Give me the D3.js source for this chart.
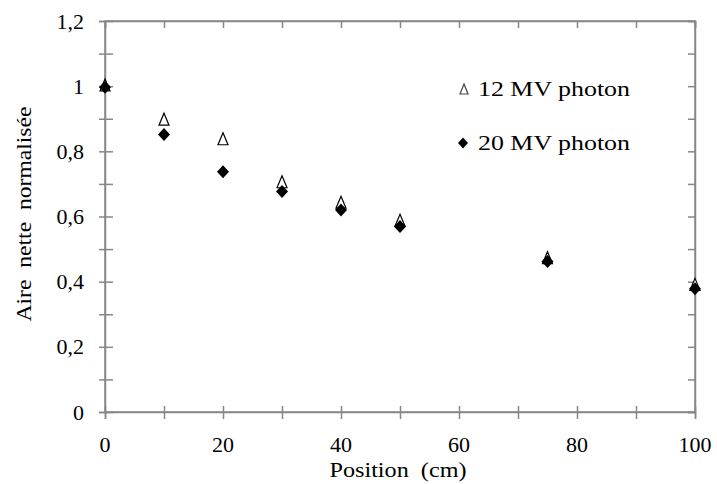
<!DOCTYPE html>
<html><head><meta charset="utf-8">
<script src="https://cdn.jsdelivr.net/npm/d3@7"></script>
<style>body{margin:0;background:#fff}svg{display:block}text{font-family:"Liberation Serif",Tinos,"Times New Roman",Times,serif;fill:#000}</style>
</head><body><svg id="c" width="717" height="484"></svg>
<script>
const positions = [0, 10, 20, 30, 40, 50, 75, 100];
const mv12 = [1.0, 0.895, 0.835, 0.703, 0.64, 0.585, 0.47, 0.388];
const mv20 = [0.997, 0.852, 0.737, 0.677, 0.62, 0.569, 0.462, 0.378];
const xTicks = [0, 20, 40, 60, 80, 100];
const yTicks = [0, 0.2, 0.4, 0.6, 0.8, 1, 1.2];
const seriesNames = ["12 MV photon", "20 MV photon"];

const svg = d3.select("#c");
const L = 105, R = 695, T = 21, B = 412;
const x = d3.scaleLinear().domain([0, 100]).range([L, R]);
const y = d3.scaleLinear().domain([0, 1.2]).range([B, T]);
const axisColor = "#878787";
const fmt = v => String(+v.toFixed(1)).replace(".", ",");
const labLen = s => s.split("").reduce((a, c) => a + (c === "," ? 5.5 : 11), 0);

// frame
svg.append("rect").attr("x", L).attr("y", T).attr("width", R - L).attr("height", B - T)
  .attr("fill", "none").attr("stroke", axisColor).attr("stroke-width", 1.5);

const minorX = d3.range(0, 101, 10);
const minorY = d3.range(0, 13).map(i => i / 10);

const gB = svg.append("g").attr("transform", `translate(0,${B})`)
  .call(d3.axisBottom(x).tickValues(minorX).tickSize(7).tickFormat(""));
gB.selectAll(".tick line").attr("y1", -6).attr("y2", 7);
const gL = svg.append("g").attr("transform", `translate(${L},0)`)
  .call(d3.axisLeft(y).tickValues(minorY).tickSize(6).tickFormat(""));
gL.selectAll(".tick line").attr("x1", 8).attr("x2", -6);
const gT = svg.append("g").attr("transform", `translate(0,${T})`)
  .call(d3.axisTop(x).tickValues(minorX).tickSize(-7).tickFormat(""));
const gR = svg.append("g").attr("transform", `translate(${R},0)`)
  .call(d3.axisRight(y).tickValues(minorY).tickSize(-7).tickFormat(""));
[gB, gL, gT, gR].forEach(g => {
  g.select(".domain").attr("stroke", axisColor).attr("stroke-width", 1.5);
  g.selectAll(".tick line").attr("stroke", axisColor).attr("stroke-width", 1.5);
});

// tick labels
svg.append("g").selectAll("text").data(xTicks).join("text")
  .attr("x", d => x(d)).attr("y", 452).attr("text-anchor", "middle")
  .attr("font-size", 22).attr("textLength", d => labLen(String(d)))
  .attr("lengthAdjust", "spacingAndGlyphs").text(d => d);
svg.append("g").selectAll("text").data(yTicks).join("text")
  .attr("x", 84).attr("y", d => y(d) + 7.5).attr("text-anchor", "end")
  .attr("font-size", 22).attr("textLength", d => labLen(fmt(d)))
  .attr("lengthAdjust", "spacingAndGlyphs").text(d => fmt(d));

// axis titles
svg.append("text").attr("x", 398).attr("y", 477).attr("text-anchor", "middle")
  .attr("font-size", 20).attr("textLength", 137).attr("lengthAdjust", "spacingAndGlyphs")
  .attr("xml:space", "preserve").text("Position  (cm)");
svg.append("text").attr("transform", "translate(31,214) rotate(-90)")
  .attr("text-anchor", "middle").attr("font-size", 20)
  .attr("textLength", 215).attr("lengthAdjust", "spacingAndGlyphs")
  .attr("xml:space", "preserve").text("Aire  nette  normalisée");

// custom marker shapes
const triType = (w, h) => ({draw(ctx) {
  ctx.moveTo(0, -h * 0.6); ctx.lineTo(w / 2, h * 0.4); ctx.lineTo(-w / 2, h * 0.4); ctx.closePath();
}});
const diaType = (w, h) => ({draw(ctx) {
  ctx.moveTo(0, -h / 2); ctx.lineTo(w / 2, 0); ctx.lineTo(0, h / 2); ctx.lineTo(-w / 2, 0); ctx.closePath();
}});

svg.append("g").selectAll("path").data(positions.map((p, i) => [p, mv12[i]])).join("path")
  .attr("d", d3.symbol().type(triType(10, 12))).attr("transform", d => `translate(${x(d[0])},${y(d[1])})`)
  .attr("fill", "#fff").attr("stroke", "#000").attr("stroke-width", 1.2);
svg.append("g").selectAll("path").data(positions.map((p, i) => [p, mv20[i]])).join("path")
  .attr("d", d3.symbol().type(diaType(12, 13))).attr("transform", d => `translate(${x(d[0])},${y(d[1])})`)
  .attr("fill", "#000");

// legend
const leg = svg.append("g");
leg.append("path").attr("d", d3.symbol().type(triType(8, 10)))
  .attr("transform", "translate(464,90)").attr("fill", "#fff").attr("stroke", "#444").attr("stroke-width", 1.2);
leg.append("path").attr("d", d3.symbol().type(diaType(10, 11)))
  .attr("transform", "translate(463,143)").attr("fill", "#000");
leg.selectAll("text").data(seriesNames).join("text")
  .attr("x", 478).attr("y", (d, i) => 96 + i * 54).attr("font-size", 21)
  .attr("textLength", 152).attr("lengthAdjust", "spacingAndGlyphs").text(d => d);
</script></body></html>
